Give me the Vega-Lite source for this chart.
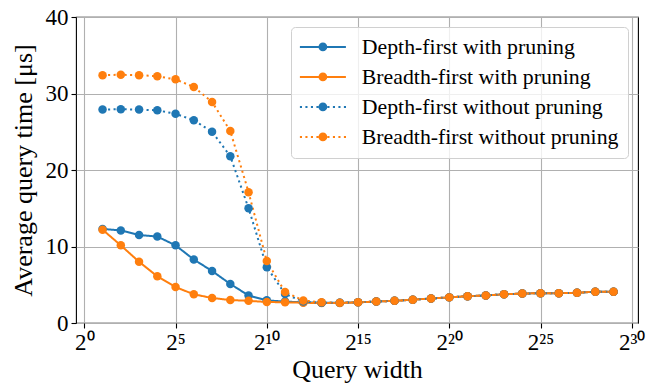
{
  "$schema": "https://vega.github.io/schema/vega-lite/v6.json",
  "width": 562,
  "height": 306,
  "autosize": {"type": "none"},
  "padding": {"left": 76, "top": 17, "right": 8, "bottom": 60},
  "background": "white",
  "config": {
    "font": "Liberation Serif",
    "view": {"stroke": "black", "strokeWidth": 1.1},
    "axis": {
      "grid": true,
      "gridColor": "#b0b0b0",
      "gridWidth": 1.1,
      "domain": false,
      "tickColor": "black",
      "tickSize": 5,
      "tickWidth": 1.1,
      "labelColor": "black",
      "labelFont": "Liberation Serif",
      "labelFontSize": 23,
      "titleFont": "Liberation Serif",
      "titleFontSize": 26,
      "titleFontWeight": "normal",
      "titleColor": "black"
    },
    "legend": {
      "orient": "top-right",
      "offset": 10,
      "labelFont": "Liberation Serif",
      "labelFontSize": 21.8,
      "labelColor": "black",
      "labelLimit": 0,
      "labelOffset": 40,
      "rowPadding": 7,
      "padding": 9,
      "cornerRadius": 4,
      "strokeColor": "#d0d0d0",
      "fillColor": "rgba(255,255,255,0.8)",
      "symbolSize": 4,
      "symbolStrokeWidth": 0
    }
  },
  "data": {
    "values": [
      {"series": "Depth-first with pruning", "width": 2, "time": 12.3},
      {"series": "Depth-first with pruning", "width": 4, "time": 12.1},
      {"series": "Depth-first with pruning", "width": 8, "time": 11.5},
      {"series": "Depth-first with pruning", "width": 16, "time": 11.3},
      {"series": "Depth-first with pruning", "width": 32, "time": 10.15},
      {"series": "Depth-first with pruning", "width": 64, "time": 8.3},
      {"series": "Depth-first with pruning", "width": 128, "time": 6.8},
      {"series": "Depth-first with pruning", "width": 256, "time": 5.1},
      {"series": "Depth-first with pruning", "width": 512, "time": 3.6},
      {"series": "Depth-first with pruning", "width": 1024, "time": 2.96},
      {"series": "Depth-first with pruning", "width": 2048, "time": 2.8},
      {"series": "Depth-first with pruning", "width": 4096, "time": 2.7},
      {"series": "Depth-first with pruning", "width": 8192, "time": 2.65},
      {"series": "Depth-first with pruning", "width": 16384, "time": 2.65},
      {"series": "Depth-first with pruning", "width": 32768, "time": 2.7},
      {"series": "Depth-first with pruning", "width": 65536, "time": 2.8},
      {"series": "Depth-first with pruning", "width": 131072, "time": 2.9},
      {"series": "Depth-first with pruning", "width": 262144, "time": 3.05},
      {"series": "Depth-first with pruning", "width": 524288, "time": 3.2},
      {"series": "Depth-first with pruning", "width": 1048576, "time": 3.35},
      {"series": "Depth-first with pruning", "width": 2097152, "time": 3.5},
      {"series": "Depth-first with pruning", "width": 4194304, "time": 3.6},
      {"series": "Depth-first with pruning", "width": 8388608, "time": 3.75},
      {"series": "Depth-first with pruning", "width": 16777216, "time": 3.85},
      {"series": "Depth-first with pruning", "width": 33554432, "time": 3.9},
      {"series": "Depth-first with pruning", "width": 67108864, "time": 3.9},
      {"series": "Depth-first with pruning", "width": 134217728, "time": 3.95},
      {"series": "Depth-first with pruning", "width": 268435456, "time": 4.1},
      {"series": "Depth-first with pruning", "width": 536870912, "time": 4.1},

      {"series": "Breadth-first with pruning", "width": 2, "time": 12.2},
      {"series": "Breadth-first with pruning", "width": 4, "time": 10.15},
      {"series": "Breadth-first with pruning", "width": 8, "time": 8.0},
      {"series": "Breadth-first with pruning", "width": 16, "time": 6.1},
      {"series": "Breadth-first with pruning", "width": 32, "time": 4.7},
      {"series": "Breadth-first with pruning", "width": 64, "time": 3.75},
      {"series": "Breadth-first with pruning", "width": 128, "time": 3.27},
      {"series": "Breadth-first with pruning", "width": 256, "time": 3.0},
      {"series": "Breadth-first with pruning", "width": 512, "time": 2.9},
      {"series": "Breadth-first with pruning", "width": 1024, "time": 2.75},
      {"series": "Breadth-first with pruning", "width": 2048, "time": 2.7},
      {"series": "Breadth-first with pruning", "width": 4096, "time": 2.65},
      {"series": "Breadth-first with pruning", "width": 8192, "time": 2.6},
      {"series": "Breadth-first with pruning", "width": 16384, "time": 2.6},
      {"series": "Breadth-first with pruning", "width": 32768, "time": 2.7},
      {"series": "Breadth-first with pruning", "width": 65536, "time": 2.8},
      {"series": "Breadth-first with pruning", "width": 131072, "time": 2.9},
      {"series": "Breadth-first with pruning", "width": 262144, "time": 3.05},
      {"series": "Breadth-first with pruning", "width": 524288, "time": 3.2},
      {"series": "Breadth-first with pruning", "width": 1048576, "time": 3.35},
      {"series": "Breadth-first with pruning", "width": 2097152, "time": 3.5},
      {"series": "Breadth-first with pruning", "width": 4194304, "time": 3.6},
      {"series": "Breadth-first with pruning", "width": 8388608, "time": 3.75},
      {"series": "Breadth-first with pruning", "width": 16777216, "time": 3.85},
      {"series": "Breadth-first with pruning", "width": 33554432, "time": 3.9},
      {"series": "Breadth-first with pruning", "width": 67108864, "time": 3.9},
      {"series": "Breadth-first with pruning", "width": 134217728, "time": 3.95},
      {"series": "Breadth-first with pruning", "width": 268435456, "time": 4.1},
      {"series": "Breadth-first with pruning", "width": 536870912, "time": 4.1},

      {"series": "Depth-first without pruning", "width": 2, "time": 27.9},
      {"series": "Depth-first without pruning", "width": 4, "time": 27.95},
      {"series": "Depth-first without pruning", "width": 8, "time": 27.9},
      {"series": "Depth-first without pruning", "width": 16, "time": 27.8},
      {"series": "Depth-first without pruning", "width": 32, "time": 27.35},
      {"series": "Depth-first without pruning", "width": 64, "time": 26.5},
      {"series": "Depth-first without pruning", "width": 128, "time": 25.0},
      {"series": "Depth-first without pruning", "width": 256, "time": 21.8},
      {"series": "Depth-first without pruning", "width": 512, "time": 15.0},
      {"series": "Depth-first without pruning", "width": 1024, "time": 7.3},
      {"series": "Depth-first without pruning", "width": 2048, "time": 3.8},
      {"series": "Depth-first without pruning", "width": 4096, "time": 2.8},
      {"series": "Depth-first without pruning", "width": 8192, "time": 2.65},
      {"series": "Depth-first without pruning", "width": 16384, "time": 2.65},
      {"series": "Depth-first without pruning", "width": 32768, "time": 2.7},
      {"series": "Depth-first without pruning", "width": 65536, "time": 2.8},
      {"series": "Depth-first without pruning", "width": 131072, "time": 2.9},
      {"series": "Depth-first without pruning", "width": 262144, "time": 3.05},
      {"series": "Depth-first without pruning", "width": 524288, "time": 3.2},
      {"series": "Depth-first without pruning", "width": 1048576, "time": 3.35},
      {"series": "Depth-first without pruning", "width": 2097152, "time": 3.5},
      {"series": "Depth-first without pruning", "width": 4194304, "time": 3.6},
      {"series": "Depth-first without pruning", "width": 8388608, "time": 3.75},
      {"series": "Depth-first without pruning", "width": 16777216, "time": 3.85},
      {"series": "Depth-first without pruning", "width": 33554432, "time": 3.9},
      {"series": "Depth-first without pruning", "width": 67108864, "time": 3.9},
      {"series": "Depth-first without pruning", "width": 134217728, "time": 3.95},
      {"series": "Depth-first without pruning", "width": 268435456, "time": 4.1},
      {"series": "Depth-first without pruning", "width": 536870912, "time": 4.1},

      {"series": "Breadth-first without pruning", "width": 2, "time": 32.4},
      {"series": "Breadth-first without pruning", "width": 4, "time": 32.45},
      {"series": "Breadth-first without pruning", "width": 8, "time": 32.4},
      {"series": "Breadth-first without pruning", "width": 16, "time": 32.25},
      {"series": "Breadth-first without pruning", "width": 32, "time": 31.85},
      {"series": "Breadth-first without pruning", "width": 64, "time": 30.85},
      {"series": "Breadth-first without pruning", "width": 128, "time": 28.9},
      {"series": "Breadth-first without pruning", "width": 256, "time": 25.1},
      {"series": "Breadth-first without pruning", "width": 512, "time": 17.1},
      {"series": "Breadth-first without pruning", "width": 1024, "time": 8.1},
      {"series": "Breadth-first without pruning", "width": 2048, "time": 4.05},
      {"series": "Breadth-first without pruning", "width": 4096, "time": 2.95},
      {"series": "Breadth-first without pruning", "width": 8192, "time": 2.7},
      {"series": "Breadth-first without pruning", "width": 16384, "time": 2.65},
      {"series": "Breadth-first without pruning", "width": 32768, "time": 2.7},
      {"series": "Breadth-first without pruning", "width": 65536, "time": 2.8},
      {"series": "Breadth-first without pruning", "width": 131072, "time": 2.9},
      {"series": "Breadth-first without pruning", "width": 262144, "time": 3.05},
      {"series": "Breadth-first without pruning", "width": 524288, "time": 3.2},
      {"series": "Breadth-first without pruning", "width": 1048576, "time": 3.35},
      {"series": "Breadth-first without pruning", "width": 2097152, "time": 3.5},
      {"series": "Breadth-first without pruning", "width": 4194304, "time": 3.6},
      {"series": "Breadth-first without pruning", "width": 8388608, "time": 3.75},
      {"series": "Breadth-first without pruning", "width": 16777216, "time": 3.85},
      {"series": "Breadth-first without pruning", "width": 33554432, "time": 3.9},
      {"series": "Breadth-first without pruning", "width": 67108864, "time": 3.9},
      {"series": "Breadth-first without pruning", "width": 134217728, "time": 3.95},
      {"series": "Breadth-first without pruning", "width": 268435456, "time": 4.1},
      {"series": "Breadth-first without pruning", "width": 536870912, "time": 4.1}
    ]
  },
  "encoding": {
    "x": {
      "field": "width",
      "type": "quantitative",
      "title": "Query width",
      "scale": {"type": "log", "base": 2, "domain": [0.7295, 1359200000], "nice": false, "zero": false},
      "axis": {
        "values": [1, 32, 1024, 32768, 1048576, 33554432, 1073741824],
        "labelExpr": "datum.value == 1 ? '2⁰' : datum.value == 32 ? '2⁵' : datum.value == 1024 ? '2¹⁰' : datum.value == 32768 ? '2¹⁵' : datum.value == 1048576 ? '2²⁰' : datum.value == 33554432 ? '2²⁵' : '2³⁰'",
        "labelPadding": 3,
        "titlePadding": 2
      }
    },
    "y": {
      "field": "time",
      "type": "quantitative",
      "title": "Average query time [μs]",
      "scale": {"domain": [0, 40], "nice": false},
      "axis": {"values": [0, 10, 20, 30, 40], "labelPadding": 3, "titlePadding": 9}
    },
    "color": {
      "field": "series",
      "type": "nominal",
      "title": null,
      "sort": ["Depth-first with pruning", "Breadth-first with pruning", "Depth-first without pruning", "Breadth-first without pruning"],
      "scale": {
        "domain": ["Depth-first with pruning", "Breadth-first with pruning", "Depth-first without pruning", "Breadth-first without pruning"],
        "range": ["#1f77b4", "#ff7f0e", "#1f77b4", "#ff7f0e"]
      },
      "legend": {
        "encode": {
          "symbols": {
            "update": {
              "fill": {"scale": "color", "field": "value"},
              "stroke": {"value": "transparent"},
              "strokeWidth": {"value": 0},
              "opacity": {"value": 1},
              "shape": {"signal": "indexof(datum.value, 'without') >= 0 ? 'M-11,-1h2.1v2h-2.1ZM-5.5,-1h2.1v2h-2.1ZM0,-1h2.1v2h-2.1ZM5.5,-1h2.1v2h-2.1ZM16.5,-1h2.1v2h-2.1ZM22,-1h2.1v2h-2.1ZM27.5,-1h2.1v2h-2.1ZM33,-1h2.1v2h-2.1ZM16.4,0A4.4,4.4,0,1,1,7.6,0A4.4,4.4,0,1,1,16.4,0Z' : 'M-11,-1h46v2h-46ZM16.4,0A4.4,4.4,0,1,1,7.6,0A4.4,4.4,0,1,1,16.4,0Z'"}
            }
          }
        }
      }
    },
    "strokeDash": {
      "field": "series",
      "type": "nominal",
      "legend": null,
      "scale": {
        "domain": ["Depth-first with pruning", "Breadth-first with pruning", "Depth-first without pruning", "Breadth-first without pruning"],
        "range": [[1, 0], [1, 0], [2.1, 3.4], [2.1, 3.4]]
      }
    }
  },
  "layer": [
    {"mark": {"type": "line", "strokeWidth": 2, "strokeCap": "butt"}},
    {"mark": {"type": "point", "filled": true, "size": 72, "opacity": 1, "shape": "circle"}, "encoding": {"strokeDash": {"value": [1, 0]}}}
  ]
}
